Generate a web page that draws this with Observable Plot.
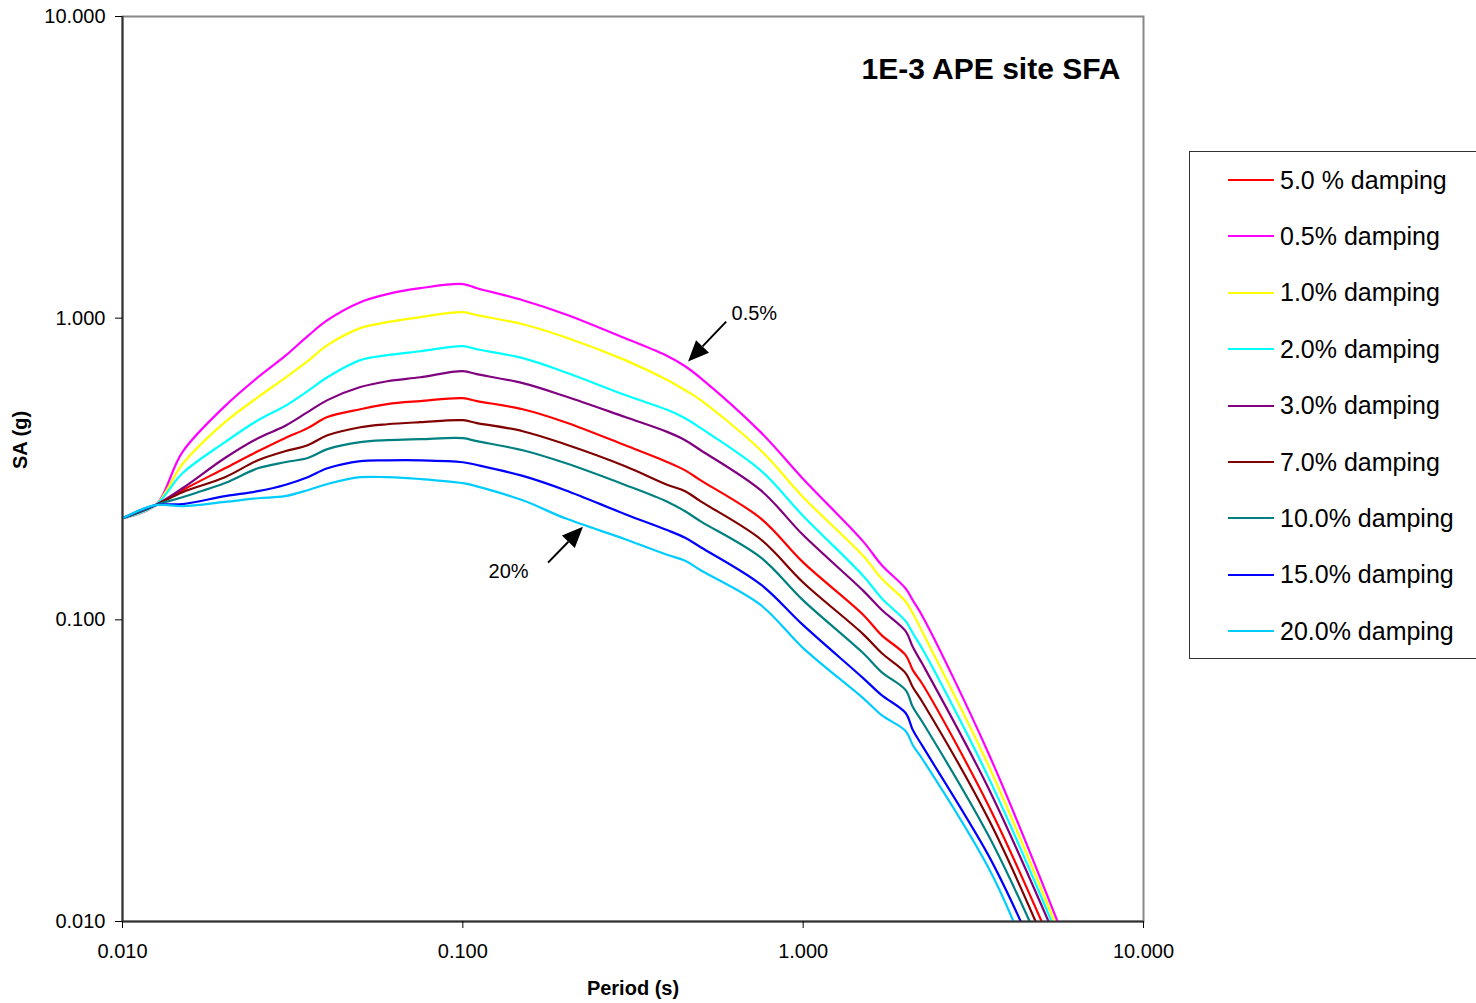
<!DOCTYPE html>
<html><head><meta charset="utf-8">
<script src="https://cdn.jsdelivr.net/npm/d3@7"></script>
<script src="https://cdn.jsdelivr.net/npm/@observablehq/plot@0.6"></script>
<style>
html,body{margin:0;padding:0;background:#fff;overflow:hidden;}
#wrap{position:relative;width:1476px;height:1003px;font-family:Arial,"Liberation Sans",sans-serif;}
#legend{position:absolute;left:1189px;top:151px;width:330px;height:508px;border:1.5px solid #333;box-sizing:border-box;background:#fff;}
.item{position:absolute;left:38px;height:30px;display:flex;align-items:center;}
.sw{width:46px;height:2px;margin-right:6px;}
.lab{font-size:25px;color:#000;white-space:nowrap;}
</style></head><body><div id="wrap"></div>
<script>
// Period grid (s) shared by all curves; each curve then ends where it leaves the chart at SA = 0.010 g
const periods = [0.01, 0.0125, 0.015, 0.02, 0.025, 0.03, 0.035, 0.04, 0.05, 0.06, 0.075, 0.1, 0.11, 0.15, 0.2, 0.3, 0.4, 0.45, 0.5, 0.75, 1.0, 1.5, 1.7, 2.0, 2.1, 2.25, 3.5];

const seriesNames = ["5.0 % damping", "0.5% damping", "1.0% damping", "2.0% damping", "3.0% damping", "7.0% damping", "10.0% damping", "15.0% damping", "20.0% damping"];
const seriesColors = ["#FF0000", "#FF00FF", "#FFFF00", "#00FFFF", "#800080", "#800000", "#008080", "#0000FF", "#00CCFF"];
const endPeriods = [5.02, 5.59, 5.48, 5.37, 5.26, 4.82, 4.63, 4.36, 4.15];

// SA (g) values
const sa050 = [0.217, 0.240, 0.269, 0.318, 0.362, 0.400, 0.432, 0.470, 0.499, 0.519, 0.531, 0.543, 0.531, 0.499, 0.452, 0.379, 0.333, 0.313, 0.290, 0.217, 0.155, 0.104, 0.0890, 0.0764, 0.0681, 0.0608, 0.0243, 0.010];
const sa005 = [0.217, 0.240, 0.360, 0.511, 0.637, 0.748, 0.872, 0.985, 1.130, 1.201, 1.257, 1.297, 1.257, 1.147, 1.031, 0.858, 0.748, 0.693, 0.633, 0.419, 0.293, 0.182, 0.152, 0.127, 0.116, 0.102, 0.0362, 0.010];
const sa010 = [0.217, 0.240, 0.328, 0.452, 0.547, 0.633, 0.720, 0.814, 0.927, 0.970, 1.008, 1.047, 1.023, 0.955, 0.865, 0.726, 0.623, 0.577, 0.535, 0.365, 0.255, 0.163, 0.137, 0.115, 0.105, 0.0903, 0.0330, 0.010];
const sa020 = [0.217, 0.240, 0.306, 0.388, 0.459, 0.511, 0.573, 0.637, 0.726, 0.754, 0.777, 0.808, 0.789, 0.737, 0.662, 0.556, 0.496, 0.466, 0.432, 0.313, 0.221, 0.140, 0.118, 0.0990, 0.0903, 0.0794, 0.0301, 0.010];
const sa030 = [0.217, 0.240, 0.273, 0.344, 0.400, 0.439, 0.488, 0.535, 0.591, 0.618, 0.637, 0.667, 0.652, 0.609, 0.551, 0.470, 0.419, 0.394, 0.365, 0.269, 0.191, 0.125, 0.108, 0.0917, 0.0812, 0.0708, 0.0277, 0.010];
const sa070 = [0.217, 0.240, 0.265, 0.297, 0.338, 0.362, 0.379, 0.409, 0.435, 0.445, 0.452, 0.459, 0.449, 0.422, 0.382, 0.323, 0.280, 0.267, 0.247, 0.185, 0.133, 0.0897, 0.0776, 0.0666, 0.0598, 0.0530, 0.0219, 0.010];
const sa100 = [0.217, 0.240, 0.255, 0.284, 0.318, 0.333, 0.344, 0.368, 0.388, 0.394, 0.397, 0.400, 0.391, 0.365, 0.331, 0.280, 0.246, 0.229, 0.212, 0.161, 0.116, 0.0776, 0.0671, 0.0585, 0.0514, 0.0455, 0.0193, 0.010];
const sa150 = [0.217, 0.240, 0.242, 0.257, 0.267, 0.280, 0.297, 0.318, 0.336, 0.338, 0.338, 0.333, 0.326, 0.300, 0.269, 0.224, 0.198, 0.187, 0.174, 0.131, 0.0960, 0.0641, 0.0563, 0.0491, 0.0431, 0.0379, 0.0166, 0.010];
const sa200 = [0.217, 0.240, 0.238, 0.246, 0.253, 0.257, 0.269, 0.282, 0.297, 0.297, 0.293, 0.284, 0.277, 0.249, 0.217, 0.185, 0.164, 0.157, 0.146, 0.112, 0.0806, 0.0550, 0.0483, 0.0428, 0.0384, 0.0343, 0.0151, 0.010];

const seriesValues = [sa050, sa005, sa010, sa020, sa030, sa070, sa100, sa150, sa200];

const axisTicks = [0.01, 0.1, 1, 10];
const titleText = "1E-3 APE site SFA";
const xTitle = "Period (s)";
const yTitle = "SA (g)";

// Annotations (in data units)
const notePeriods = [0.616, 0.119];
const noteSA = [1.039, 0.144];
const noteLabels = ["0.5%", "20%"];
const arrowFromPeriod = [0.596, 0.1786];
const arrowFromSA = [0.970, 0.1542];
const arrowToPeriod = [0.4605, 0.2262];
const arrowToSA = [0.715, 0.2029];

// Build table
const rows = [];
seriesValues.forEach((vals, i) => {
  vals.forEach((v, j) => {
    rows.push({series: seriesNames[i], order: i, period: j < periods.length ? periods[j] : endPeriods[i], sa: v});
  });
});
const notes = noteLabels.map((t, i) => ({label: t, period: notePeriods[i], sa: noteSA[i]}));
const arrows = arrowFromPeriod.map((p, i) => ({p1: p, s1: arrowFromSA[i], p2: arrowToPeriod[i], s2: arrowToSA[i]}));

const arrowMark = (index, scales) => {
  const g = d3.create("svg:g");
  for (const a of arrows) {
    const x1 = scales.x(a.p1), y1 = scales.y(a.s1), x2 = scales.x(a.p2), y2 = scales.y(a.s2);
    const ang = Math.atan2(y2 - y1, x2 - x1);
    const L = 21, W = 9;
    const bx = x2 - L * Math.cos(ang), by = y2 - L * Math.sin(ang);
    g.append("line").attr("x1", x1).attr("y1", y1).attr("x2", bx).attr("y2", by)
      .attr("stroke", "#000").attr("stroke-width", 2);
    g.append("polygon")
      .attr("points", `${x2},${y2} ${bx + W * Math.sin(ang)},${by - W * Math.cos(ang)} ${bx - W * Math.sin(ang)},${by + W * Math.cos(ang)}`)
      .attr("fill", "#000");
  }
  return g.node();
};

const fmt = d3.format(".3f");

const chart = Plot.plot({
  width: 1476,
  height: 1003,
  marginLeft: 122,
  marginRight: 333,
  marginTop: 16,
  marginBottom: 82,
  style: {fontFamily: "Arial, 'Liberation Sans', sans-serif", fontSize: "20px", background: "#fff", color: "#000"},
  x: {type: "log", domain: [0.01, 10]},
  y: {type: "log", domain: [0.01, 10]},
  marks: [
    Plot.frame({stroke: "#888", strokeWidth: 2}),
    Plot.line(rows, {x: "period", y: "sa", z: "series", stroke: d => seriesColors[d.order], strokeWidth: 2.2, curve: "catmull-rom", clip: true}),
    Plot.ruleX([0.01], {stroke: "#333", strokeWidth: 2}),
    Plot.ruleY([0.01], {stroke: "#333", strokeWidth: 2}),
    Plot.axisX({ticks: axisTicks, tickFormat: fmt, tickSize: 7, tickPadding: 15, label: null, fontSize: 20, stroke: "#000"}),
    Plot.axisY({ticks: axisTicks, tickFormat: fmt, tickSize: 7, tickPadding: 10, label: null, fontSize: 20, stroke: "#000"}),
    Plot.text(notes, {x: "period", y: "sa", text: "label", textAnchor: "start", fontSize: 20, fill: "#000"}),
    arrowMark,
    Plot.text([titleText], {frameAnchor: "top-right", dx: -23, dy: 41, fontSize: 30, fontWeight: "bold", fill: "#000", textAnchor: "end"}),
    Plot.text([xTitle], {frameAnchor: "bottom", dy: 73, fontSize: 20, fontWeight: "bold", fill: "#000"}),
    Plot.text([yTitle], {frameAnchor: "left", dx: -102, rotate: -90, fontSize: 20, fontWeight: "bold", fill: "#000"})
  ]
});

const wrap = document.getElementById("wrap");
wrap.appendChild(chart);

// Legend
const legend = document.createElement("div");
legend.id = "legend";
seriesNames.forEach((name, i) => {
  const it = document.createElement("div");
  it.className = "item";
  it.style.top = (13 + 56.4 * i) + "px";
  const sw = document.createElement("div");
  sw.className = "sw";
  sw.style.background = seriesColors[i];
  const lab = document.createElement("span");
  lab.className = "lab";
  lab.textContent = name;
  it.appendChild(sw);
  it.appendChild(lab);
  legend.appendChild(it);
});
wrap.appendChild(legend);
</script>
</body></html>
